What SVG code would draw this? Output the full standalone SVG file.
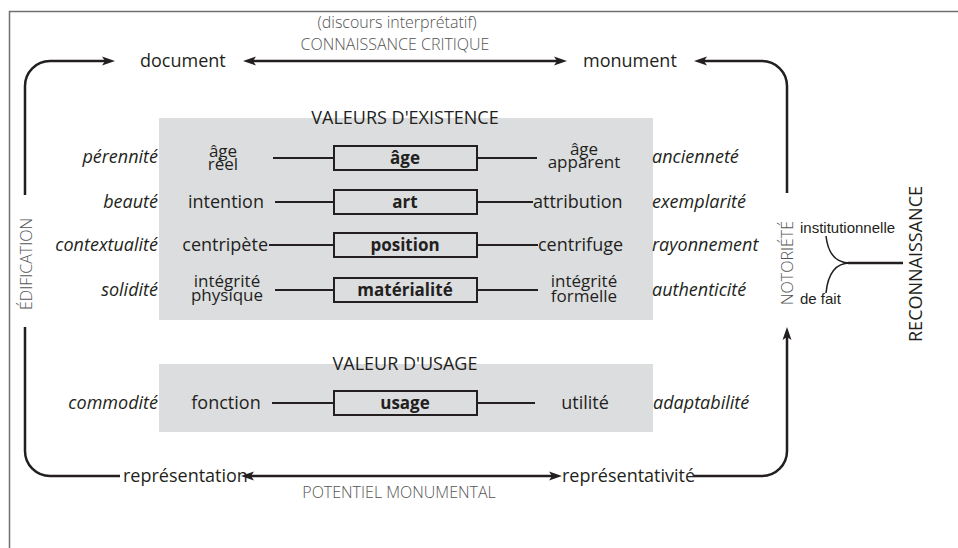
<svg xmlns="http://www.w3.org/2000/svg" width="958" height="548" viewBox="0 0 958 548">
<style>
.t{font-family:"Open Sans","Liberation Sans",sans-serif;font-size:18px;fill:#231f20}
.i{font-style:italic}
.m{text-anchor:middle}
.e{text-anchor:end}
.s{font-size:17px}
.b{font-weight:bold;font-size:17px}
.g{fill:#555;font-weight:300;font-size:16px}
.n{font-family:"Liberation Sans",sans-serif;font-size:15px;fill:#231f20}
.bg{fill:#dcdddf}
.box{fill:none;stroke:#231f20;stroke-width:2}
.ln{fill:none;stroke:#231f20;stroke-width:2}
.lp{fill:none;stroke:#231f20;stroke-width:2.5}
</style>
<defs>
<marker id="ah" markerUnits="userSpaceOnUse" markerWidth="14" markerHeight="10" refX="6" refY="5" orient="auto-start-reverse" viewBox="0 0 14 10">
<path d="M0,0.5 L13,5 L0,9.5 L3,5 Z" fill="#231f20"/>
</marker>
</defs>
<rect width="958" height="548" fill="#fff"/>
<path d="M9.5,548 V11.5 H958" fill="none" stroke="#707070" stroke-width="1.5"/>

<g id="backgrounds">
<rect class="bg" x="159" y="118" width="494" height="202"/>
<rect class="bg" x="159" y="364" width="494" height="68"/>
</g>

<g id="connectors">
<path class="lp" d="M25,195 V86 A25,25 0 0 1 50,61 H108" marker-end="url(#ah)"/>
<path class="lp" d="M250,61 H560" marker-start="url(#ah)" marker-end="url(#ah)"/>
<path class="lp" d="M787,193 V86 A25,25 0 0 0 762,61 H701" marker-end="url(#ah)"/>
<path class="lp" d="M120,476 H50 A25,25 0 0 1 25,451 V327"/>
<path class="lp" d="M248,476 H555" marker-start="url(#ah)" marker-end="url(#ah)"/>
<path class="lp" d="M694,476 H762 A25,25 0 0 0 787,451 V334" marker-end="url(#ah)"/>
<path class="ln" d="M273,158 H334 M477,158 H537"/>
<path class="ln" d="M275,202 H334 M477,202 H533"/>
<path class="ln" d="M269,245 H334 M477,245 H538"/>
<path class="ln" d="M275,290 H334 M477,290 H538"/>
<path class="ln" d="M272,403 H334 M477,403 H535"/>
<path d="M826,236 C828,254 836,263 850,263 M826,293 C828,273 836,263 850,263" fill="none" stroke="#231f20" stroke-width="1.5"/>
<path class="lp" d="M848,263 H903"/>
</g>

<g id="top-labels">
<text class="t g m" x="397" y="28" font-size="15">(discours interprétatif)</text>
<text class="t g m" x="395" y="50">CONNAISSANCE CRITIQUE</text>
<text class="t m" x="405" y="124" font-size="16">VALEURS D'EXISTENCE</text>
<text class="t m" x="405" y="370" font-size="16">VALEUR D'USAGE</text>
<text class="t g m" x="399" y="498">POTENTIEL MONUMENTAL</text>
</g>

<g id="document"><text class="t" x="140" y="67">document</text></g>
<g id="monument"><text class="t" x="583" y="67">monument</text></g>
<g id="representation"><text class="t" x="123" y="482">représentation</text></g>
<g id="representativite"><text class="t" x="562" y="482">représentativité</text></g>

<g id="edification"><text class="t g m" transform="translate(32,264) rotate(-90)" font-size="15.5">ÉDIFICATION</text></g>
<g id="notoriete"><text class="t g m" transform="translate(793,263) rotate(-90)" font-size="15">NOTORIÉTÉ</text></g>
<g id="reconnaissance"><text class="t m" transform="translate(922,264) rotate(-90)" font-size="16">RECONNAISSANCE</text></g>
<g id="institutionnelle"><text class="n" x="800" y="233">institutionnelle</text></g>
<g id="de-fait"><text class="n" x="800" y="304">de fait</text></g>

<g id="row-age">
<text class="t i e" x="158" y="163">pérennité</text>
<text class="t s m" x="223" y="157"><tspan x="223">âge</tspan><tspan x="223" dy="13">réel</tspan></text>
<rect class="box" x="334" y="146" width="143" height="24"/>
<text class="t b m" x="405" y="164">âge</text>
<text class="t s m" x="584" y="155"><tspan x="584">âge</tspan><tspan x="584" dy="13">apparent</tspan></text>
<text class="t i" x="652" y="163">ancienneté</text>
</g>

<g id="row-art">
<text class="t i e" x="158" y="208">beauté</text>
<text class="t m" x="226" y="208">intention</text>
<rect class="box" x="334" y="190" width="143" height="24"/>
<text class="t b m" x="405" y="208">art</text>
<text class="t" x="533" y="208">attribution</text>
<text class="t i" x="652" y="208">exemplarité</text>
</g>

<g id="row-position">
<text class="t i e" x="158" y="251">contextualité</text>
<text class="t e" x="268" y="251">centripète</text>
<rect class="box" x="334" y="233" width="143" height="24"/>
<text class="t b m" x="405" y="251">position</text>
<text class="t" x="538" y="251">centrifuge</text>
<text class="t i" x="652" y="251">rayonnement</text>
</g>

<g id="row-materialite">
<text class="t i e" x="158" y="296">solidité</text>
<text class="t s m" x="227" y="287"><tspan x="227">intégrité</tspan><tspan x="227" dy="14">physique</tspan></text>
<rect class="box" x="334" y="278" width="143" height="24"/>
<text class="t b m" x="405" y="296">matérialité</text>
<text class="t s m" x="584" y="287"><tspan x="584">intégrité</tspan><tspan x="584" dy="15">formelle</tspan></text>
<text class="t i" x="652" y="296">authenticité</text>
</g>

<g id="row-usage">
<text class="t i e" x="158" y="409">commodité</text>
<text class="t m" x="226" y="409">fonction</text>
<rect class="box" x="334" y="391" width="143" height="24"/>
<text class="t b m" x="405" y="409">usage</text>
<text class="t m" x="585" y="409">utilité</text>
<text class="t i" x="653" y="409">adaptabilité</text>
</g>
</svg>
